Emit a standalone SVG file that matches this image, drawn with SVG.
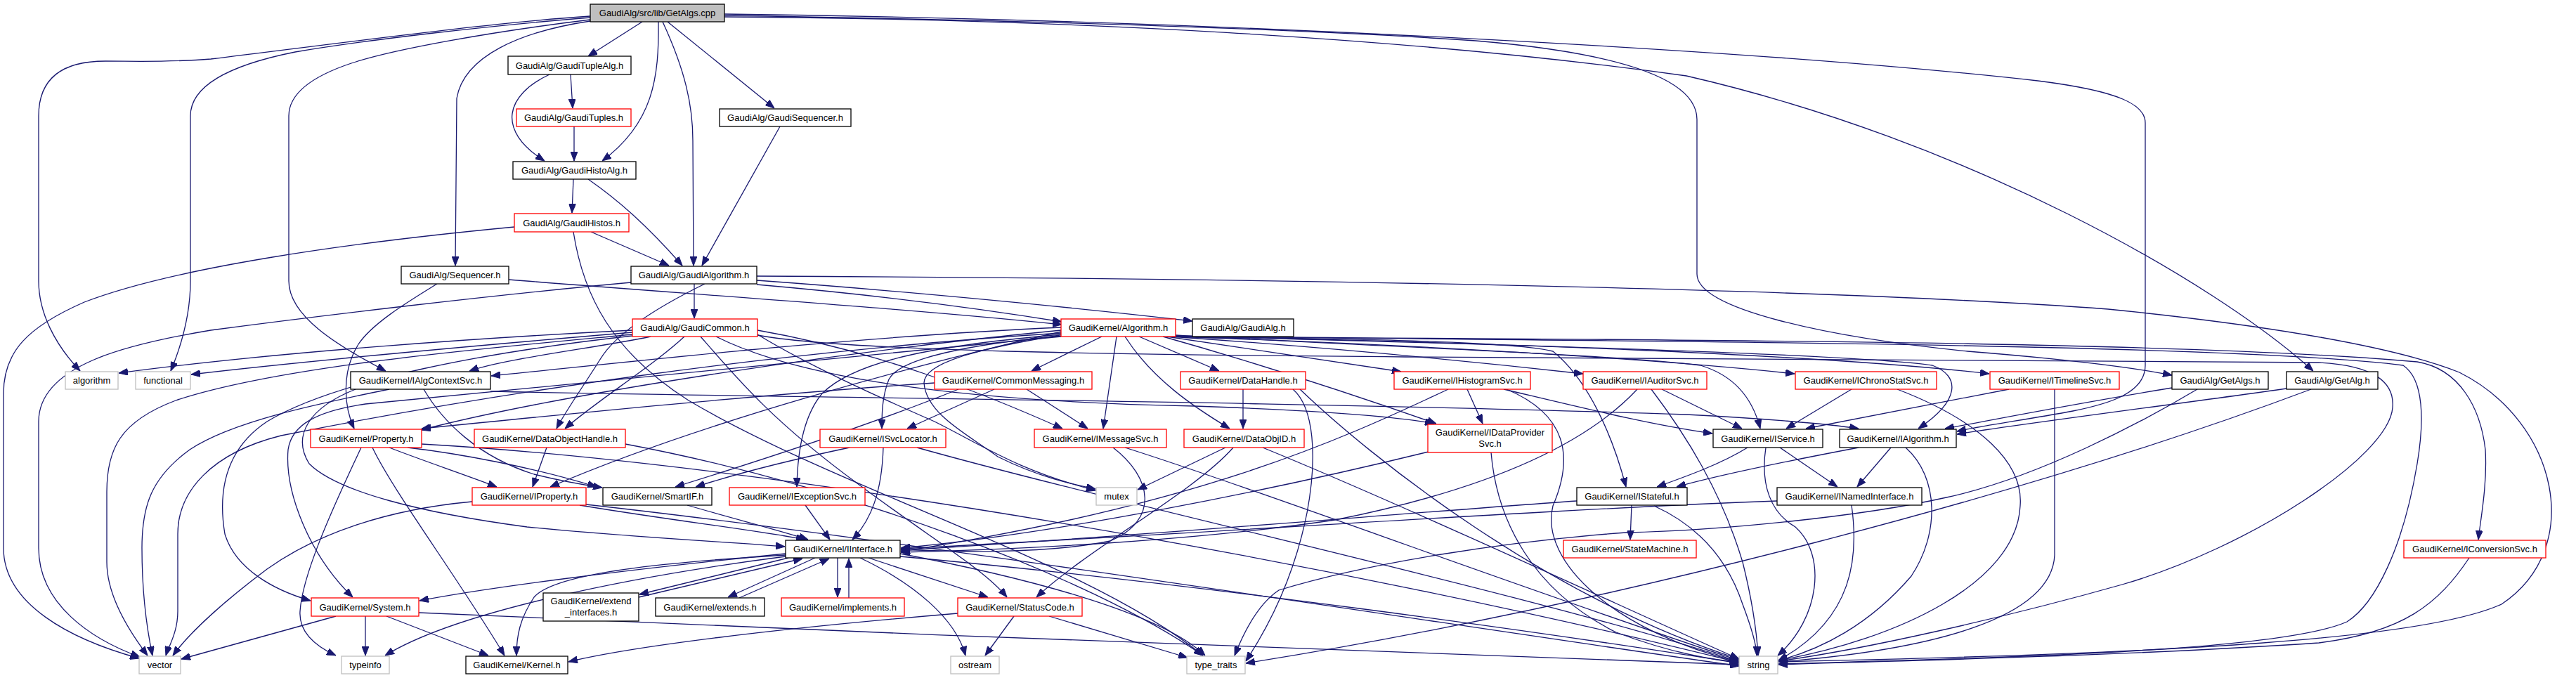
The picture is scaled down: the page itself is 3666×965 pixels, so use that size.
<svg xmlns="http://www.w3.org/2000/svg" width="3666" height="965" viewBox="0 0 3666 965">
<style>
.n rect{fill:#fff;stroke:#000;stroke-width:1.3}
.n.r rect{stroke:#ff0000}
.n.g rect{stroke:#bfbfbf}
.n.root rect{fill:#bfbfbf}
.n text{font-family:"Liberation Sans",Arial,sans-serif;font-size:13px;text-anchor:middle;fill:#000}
#edges path{fill:none;stroke:#191970;stroke-width:1.3;marker-end:url(#a)}
</style>
<defs>
<marker id="a" markerWidth="13" markerHeight="10" refX="13" refY="5" orient="auto" markerUnits="userSpaceOnUse"><path d="M0,0 L13,5 L0,10 z" fill="#191970" stroke="#191970" stroke-width="1"/></marker>
</defs>
<rect width="3666" height="965" fill="#fff"/>
<g id="edges">
<path d="M840,23 C700,32 480,62 300,84 C240,89 190,87 150,87 C90,87 55,110 55,165 L55,400 C55,445 78,490 114,528"/>
<path d="M840,25 C700,36 520,57 420,74 C330,92 271,120 271,165 L271,400 C271,450 258,492 243,528"/>
<path d="M840,28 C700,45 560,70 500,90 C440,110 411,135 411,165 L411,400 C411,450 480,492 549,528"/>
<path d="M840,30 C740,45 660,80 650,140 L648,378"/>
<path d="M914,31 L837,80"/>
<path d="M937,31 C938,110 930,175 857,229"/>
<path d="M943,31 C975,100 986,150 986,200 L987,378"/>
<path d="M950,31 L1102,154"/>
<path d="M1031,22 C1400,28 1800,38 2100,58 C2300,75 2415,110 2415,170 L2415,390 C2415,440 2600,480 2800,500 C2950,512 3030,522 3091,534"/>
<path d="M1031,24 C1500,27 2000,52 2400,108 C2800,200 3150,400 3292,528"/>
<path d="M1031,20 C1700,28 2500,70 2900,115 C3020,130 3053,150 3053,175 L3053,520 C3053,560 3000,575 2950,585 C2880,598 2820,606 2785,614"/>
<path d="M812,106 L815,154"/>
<path d="M782,106 C720,135 705,185 775,229"/>
<path d="M817,180 L817,229"/>
<path d="M1110,180 L999,378"/>
<path d="M816,255 L814,303"/>
<path d="M837,255 C880,285 920,320 971,378"/>
<path d="M841,330 L952,378"/>
<path d="M732,323 C500,345 250,380 120,430 C40,465 5,500 5,560 L5,780 C5,860 100,910 198,937"/>
<path d="M816,330 C830,420 870,500 980,570 C1200,700 1550,800 1712,933"/>
<path d="M988,404 L988,453"/>
<path d="M1077,405 C1250,420 1400,440 1511,458"/>
<path d="M1077,399 C1300,415 1550,440 1697,457"/>
<path d="M898,402 C700,420 450,450 300,470 C180,490 55,520 55,600 L55,780 C55,860 130,910 199,935"/>
<path d="M1077,393 C1800,396 2600,410 3000,440 C3200,460 3400,490 3500,530 C3640,600 3680,780 3560,860 C3450,910 3100,930 2531,942"/>
<path d="M1003,404 C950,430 880,470 855,510 C830,550 805,585 792,610"/>
<path d="M974,479 C930,520 850,570 804,610"/>
<path d="M926,479 C850,495 720,510 668,528"/>
<path d="M900,470 C700,480 400,500 169,531"/>
<path d="M900,473 C700,490 450,512 272,533"/>
<path d="M900,476 C700,495 400,520 250,570 C170,600 152,640 152,700 L152,800 C152,850 185,900 210,933"/>
<path d="M900,478 C700,500 480,540 380,600 C320,640 310,700 320,760 C335,810 390,840 442,855"/>
<path d="M997,479 C1050,540 1100,600 1220,688 C1330,770 1400,810 1433,850"/>
<path d="M1019,479 C1150,545 1400,572 1700,578 C1900,585 2000,595 2041,603"/>
<path d="M1078,470 C1250,500 1400,560 1512,610"/>
<path d="M1078,476 C1150,520 1250,565 1330,600 C1400,635 1450,670 1559,698"/>
<path d="M1078,477 C1200,500 1600,505 2000,508 C2600,512 3100,512 3300,516 C3380,520 3408,545 3405,580 C3400,650 3200,780 3020,832 C2850,880 2650,925 2531,941"/>
<path d="M724,398 C1000,420 1300,440 1511,462"/>
<path d="M622,404 C580,430 530,460 510,490 C485,530 490,580 504,610"/>
<path d="M554,554 C450,575 330,600 270,640 C215,680 202,720 202,780 C202,850 210,900 217,933"/>
<path d="M698,557 C1100,566 1800,570 2400,590 C2500,595 2600,603 2645,610"/>
<path d="M506,554 C440,580 415,620 440,660 C480,700 600,730 750,750 C900,765 1050,772 1117,778"/>
<path d="M603,554 C630,600 680,650 760,675 C800,685 830,690 857,694"/>
<path d="M554,637 C600,655 660,675 707,693"/>
<path d="M580,637 C650,645 760,665 849,693"/>
<path d="M530,637 C560,700 650,820 718,933"/>
<path d="M514,637 C470,730 430,820 427,870 C425,900 450,920 478,933"/>
<path d="M600,632 C1100,660 1900,800 2475,943"/>
<path d="M1568,479 L1468,528"/>
<path d="M1589,479 L1570,610"/>
<path d="M1601,479 C1640,540 1700,580 1750,610"/>
<path d="M1621,479 L1735,528"/>
<path d="M1660,479 C1800,500 1900,515 1994,529"/>
<path d="M1665,479 C1900,495 2100,515 2253,532"/>
<path d="M1668,479 C2000,490 2350,510 2554,532"/>
<path d="M1670,479 C2100,486 2600,505 2831,532"/>
<path d="M1672,479 C2400,484 3100,485 3440,515 C3500,525 3530,580 3537,640 C3540,690 3530,740 3527,768"/>
<path d="M1671,479 C2500,486 3200,492 3420,520 C3450,540 3450,600 3440,660 C3420,780 3380,860 3340,885 C3250,925 2900,935 2531,945"/>
<path d="M1655,479 C1800,520 1950,570 2044,603"/>
<path d="M1510,476 C1350,490 1220,510 1170,560 C1145,590 1135,640 1134,693"/>
<path d="M1510,478 C1380,490 1280,510 1265,540 C1255,565 1255,590 1255,610"/>
<path d="M1673,477 C2000,495 2300,505 2420,520 C2470,535 2495,570 2505,610"/>
<path d="M1673,478 C2200,492 2650,505 2750,520 C2790,535 2790,570 2730,610"/>
<path d="M1673,479 C1900,482 2150,485 2210,500 C2260,540 2295,620 2314,693"/>
<path d="M1510,466 C1200,480 900,515 699,535"/>
<path d="M1510,470 C1200,500 800,560 599,612"/>
<path d="M1510,472 C1300,520 1000,600 783,693"/>
<path d="M1510,479 C1100,520 700,560 520,575 C450,585 415,605 410,640 C405,700 440,790 502,850"/>
<path d="M1510,474 C1100,500 700,560 400,620 C300,645 253,700 253,760 L253,870 C253,900 240,920 236,933"/>
<path d="M1508,477 C1400,495 1315,515 1315,545 C1318,590 1380,620 1420,650 C1480,680 1530,690 1559,696"/>
<path d="M1461,554 L1548,610"/>
<path d="M1415,554 L1291,610"/>
<path d="M1364,554 C1250,600 1100,650 961,693"/>
<path d="M1330,545 C1100,560 800,590 600,610"/>
<path d="M1769,554 L1769,610"/>
<path d="M1840,554 C1870,580 1875,650 1860,730 C1840,830 1800,900 1773,941"/>
<path d="M1850,554 C1950,650 2200,850 2475,938"/>
<path d="M778,637 L758,693"/>
<path d="M890,632 C1200,690 1550,820 1712,933"/>
<path d="M672,714 C550,725 450,760 380,810 C320,855 270,900 246,933"/>
<path d="M825,719 C950,740 1080,755 1146,768"/>
<path d="M834,718 C1300,770 2000,880 2475,948"/>
<path d="M978,719 C1050,740 1110,755 1150,768"/>
<path d="M1146,719 L1181,768"/>
<path d="M1122,794 L910,846"/>
<path d="M909,850 L1142,795"/>
<path d="M1160,794 L1036,850"/>
<path d="M1052,851 L1180,795"/>
<path d="M1192,794 L1192,850"/>
<path d="M1208,851 L1208,795"/>
<path d="M1118,790 C950,800 790,815 760,850 C740,880 735,905 735,933"/>
<path d="M1118,788 C900,810 700,835 597,855"/>
<path d="M1118,792 C900,820 650,870 548,933"/>
<path d="M1236,794 L1406,850"/>
<path d="M1224,794 C1300,830 1360,880 1374,933"/>
<path d="M1281,788 C1450,820 1650,870 1715,933"/>
<path d="M1281,792 C1700,830 2200,900 2475,944"/>
<path d="M478,877 L258,938"/>
<path d="M520,877 L520,933"/>
<path d="M550,877 L695,933"/>
<path d="M596,872 C1200,900 2000,930 2475,946"/>
<path d="M1257,637 C1255,700 1240,740 1213,768"/>
<path d="M1209,637 C1100,660 1030,680 990,693"/>
<path d="M1305,637 C1600,720 2200,850 2475,942"/>
<path d="M1584,637 C1640,680 1650,740 1580,770 C1480,790 1350,785 1282,782"/>
<path d="M1601,637 C1800,700 2200,850 2475,940"/>
<path d="M1744,637 L1619,697"/>
<path d="M1755,637 C1700,700 1550,780 1475,850"/>
<path d="M1797,637 C2000,720 2300,860 2475,938"/>
<path d="M1443,877 L1402,933"/>
<path d="M1493,877 L1690,936"/>
<path d="M1363,873 C1100,895 900,920 809,942"/>
<path d="M2088,554 L2110,603"/>
<path d="M2061,554 C1900,630 1700,720 1282,785"/>
<path d="M2144,554 C2230,590 2240,650 2210,720 C2190,800 2300,900 2475,942"/>
<path d="M2140,554 C2250,580 2350,605 2437,617"/>
<path d="M2365,554 L2479,610"/>
<path d="M2330,554 C2250,640 2100,700 1900,740 C1700,770 1450,782 1282,786"/>
<path d="M2350,554 C2400,620 2450,700 2480,800 C2495,860 2500,900 2502,933"/>
<path d="M2635,554 L2542,610"/>
<path d="M2700,554 C2820,600 2880,660 2875,720 C2870,830 2700,910 2531,940"/>
<path d="M2859,554 L2570,610"/>
<path d="M2924,554 L2924,790 C2920,880 2750,925 2531,942"/>
<path d="M2033,643 C1800,700 1500,760 1282,780"/>
<path d="M2122,644 C2130,740 2180,840 2300,900 C2380,930 2440,940 2475,942"/>
<path d="M2322,719 L2320,768"/>
<path d="M2244,713 C2000,730 1600,765 1282,783"/>
<path d="M2354,720 C2420,750 2460,800 2480,860 C2495,900 2500,920 2500,933"/>
<path d="M2533,637 L2615,693"/>
<path d="M2487,637 C2450,660 2400,678 2358,693"/>
<path d="M2513,637 C2505,690 2520,730 2555,750 C2600,790 2590,880 2530,933"/>
<path d="M2691,637 L2643,693"/>
<path d="M2645,637 C2550,655 2450,675 2386,693"/>
<path d="M2712,637 C2760,680 2760,760 2720,820 C2660,890 2590,925 2531,940"/>
<path d="M2529,713 C2200,725 1700,760 1282,781"/>
<path d="M2635,719 C2645,790 2640,880 2531,940"/>
<path d="M3091,552 C2950,575 2850,595 2768,610"/>
<path d="M3127,554 C3050,600 2900,680 2770,708 C2650,735 2450,755 2314,758 C2150,770 1950,800 1820,840 C1790,860 1770,900 1757,933"/>
<path d="M3254,553 C3100,575 2900,600 2785,618"/>
<path d="M3289,554 C2900,700 2300,860 1773,944"/>
<path d="M3514,794 C3470,860 3420,900 3300,915 C3000,935 2700,940 2531,946"/>
</g>
<g id="n_root" class="n root"><rect x="840" y="6" width="191" height="25"/><text x="935.5" y="23">GaudiAlg/src/lib/GetAlgs.cpp</text></g>
<g id="n_tuplealg" class="n"><rect x="723" y="80" width="175" height="26"/><text x="810.5" y="98">GaudiAlg/GaudiTupleAlg.h</text></g>
<g id="n_tuples" class="n r"><rect x="735" y="155" width="163" height="25"/><text x="816.5" y="172">GaudiAlg/GaudiTuples.h</text></g>
<g id="n_gaudiseq" class="n"><rect x="1024" y="155" width="187" height="25"/><text x="1117.5" y="172">GaudiAlg/GaudiSequencer.h</text></g>
<g id="n_histoalg" class="n"><rect x="730" y="230" width="175" height="25"/><text x="817.5" y="247">GaudiAlg/GaudiHistoAlg.h</text></g>
<g id="n_histos" class="n r"><rect x="732" y="304" width="163" height="26"/><text x="813.5" y="322">GaudiAlg/GaudiHistos.h</text></g>
<g id="n_sequencer" class="n"><rect x="571" y="379" width="153" height="25"/><text x="647.5" y="396">GaudiAlg/Sequencer.h</text></g>
<g id="n_gaudialgorithm" class="n"><rect x="898" y="379" width="179" height="25"/><text x="987.5" y="396">GaudiAlg/GaudiAlgorithm.h</text></g>
<g id="n_gaudicommon" class="n r"><rect x="900" y="454" width="178" height="25"/><text x="989" y="471">GaudiAlg/GaudiCommon.h</text></g>
<g id="n_algorithm_h" class="n r"><rect x="1510" y="454" width="163" height="25"/><text x="1591.5" y="471">GaudiKernel/Algorithm.h</text></g>
<g id="n_gaudialg" class="n"><rect x="1697" y="454" width="144" height="25"/><text x="1769" y="471">GaudiAlg/GaudiAlg.h</text></g>
<g id="n_algorithm" class="n g"><rect x="93" y="529" width="75" height="25"/><text x="130.5" y="546">algorithm</text></g>
<g id="n_functional" class="n g"><rect x="193" y="529" width="78" height="25"/><text x="232" y="546">functional</text></g>
<g id="n_ialgcontextsvc" class="n"><rect x="499" y="529" width="199" height="25"/><text x="598.5" y="546">GaudiKernel/IAlgContextSvc.h</text></g>
<g id="n_property" class="n r"><rect x="442" y="611" width="158" height="26"/><text x="521" y="629">GaudiKernel/Property.h</text></g>
<g id="n_system" class="n r"><rect x="443" y="851" width="153" height="26"/><text x="519.5" y="869">GaudiKernel/System.h</text></g>
<g id="n_vector" class="n g"><rect x="198" y="934" width="59" height="25"/><text x="227.5" y="951">vector</text></g>
<g id="n_typeinfo" class="n g"><rect x="486" y="934" width="68" height="25"/><text x="520" y="951">typeinfo</text></g>
<g id="n_dataobjecthandle" class="n r"><rect x="675" y="611" width="215" height="26"/><text x="782.5" y="629">GaudiKernel/DataObjectHandle.h</text></g>
<g id="n_iproperty" class="n r"><rect x="672" y="694" width="162" height="25"/><text x="753" y="711">GaudiKernel/IProperty.h</text></g>
<g id="n_smartif" class="n"><rect x="858" y="694" width="155" height="25"/><text x="935.5" y="711">GaudiKernel/SmartIF.h</text></g>
<g id="n_iexceptionsvc" class="n r"><rect x="1038" y="694" width="193" height="25"/><text x="1134.5" y="711">GaudiKernel/IExceptionSvc.h</text></g>
<g id="n_iinterface" class="n"><rect x="1118" y="769" width="163" height="25"/><text x="1199.5" y="786">GaudiKernel/IInterface.h</text></g>
<g id="n_extend_interfaces" class="n"><rect x="773" y="844" width="136" height="40"/><text x="841" y="860">GaudiKernel/extend</text><text x="841" y="876">_interfaces.h</text></g>
<g id="n_extends" class="n"><rect x="933" y="851" width="155" height="26"/><text x="1010.5" y="869">GaudiKernel/extends.h</text></g>
<g id="n_implements" class="n r"><rect x="1112" y="851" width="175" height="26"/><text x="1199.5" y="869">GaudiKernel/implements.h</text></g>
<g id="n_kernel" class="n"><rect x="663" y="934" width="145" height="25"/><text x="735.5" y="951">GaudiKernel/Kernel.h</text></g>
<g id="n_isvclocator" class="n r"><rect x="1167" y="611" width="179" height="26"/><text x="1256.5" y="629">GaudiKernel/ISvcLocator.h</text></g>
<g id="n_commonmessaging" class="n r"><rect x="1330" y="529" width="224" height="25"/><text x="1442" y="546">GaudiKernel/CommonMessaging.h</text></g>
<g id="n_datahandle" class="n r"><rect x="1680" y="529" width="178" height="25"/><text x="1769" y="546">GaudiKernel/DataHandle.h</text></g>
<g id="n_imessagesvc" class="n r"><rect x="1472" y="611" width="188" height="26"/><text x="1566" y="629">GaudiKernel/IMessageSvc.h</text></g>
<g id="n_dataobjid" class="n r"><rect x="1685" y="611" width="171" height="26"/><text x="1770.5" y="629">GaudiKernel/DataObjID.h</text></g>
<g id="n_mutex" class="n g"><rect x="1560" y="694" width="58" height="25"/><text x="1589" y="711">mutex</text></g>
<g id="n_statuscode" class="n r"><rect x="1363" y="851" width="177" height="26"/><text x="1451.5" y="869">GaudiKernel/StatusCode.h</text></g>
<g id="n_ostream" class="n g"><rect x="1353" y="934" width="69" height="25"/><text x="1387.5" y="951">ostream</text></g>
<g id="n_type_traits" class="n g"><rect x="1689" y="934" width="83" height="25"/><text x="1730.5" y="951">type_traits</text></g>
<g id="n_ihistogramsvc" class="n r"><rect x="1984" y="529" width="194" height="25"/><text x="2081" y="546">GaudiKernel/IHistogramSvc.h</text></g>
<g id="n_iauditorsvc" class="n r"><rect x="2253" y="529" width="176" height="25"/><text x="2341" y="546">GaudiKernel/IAuditorSvc.h</text></g>
<g id="n_idataprovidersvc" class="n r"><rect x="2032" y="604" width="177" height="40"/><text x="2120.5" y="620">GaudiKernel/IDataProvider</text><text x="2120.5" y="636">Svc.h</text></g>
<g id="n_istateful" class="n"><rect x="2244" y="694" width="157" height="25"/><text x="2322.5" y="711">GaudiKernel/IStateful.h</text></g>
<g id="n_statemachine" class="n r"><rect x="2225" y="769" width="189" height="25"/><text x="2319.5" y="786">GaudiKernel/StateMachine.h</text></g>
<g id="n_ichronostatsvc" class="n r"><rect x="2555" y="529" width="201" height="25"/><text x="2655.5" y="546">GaudiKernel/IChronoStatSvc.h</text></g>
<g id="n_itimelinesvc" class="n r"><rect x="2832" y="529" width="184" height="25"/><text x="2924" y="546">GaudiKernel/ITimelineSvc.h</text></g>
<g id="n_iservice" class="n"><rect x="2438" y="611" width="156" height="26"/><text x="2516" y="629">GaudiKernel/IService.h</text></g>
<g id="n_ialgorithm" class="n"><rect x="2618" y="611" width="166" height="26"/><text x="2701" y="629">GaudiKernel/IAlgorithm.h</text></g>
<g id="n_inamedinterface" class="n"><rect x="2529" y="694" width="206" height="25"/><text x="2632" y="711">GaudiKernel/INamedInterface.h</text></g>
<g id="n_string" class="n g"><rect x="2475" y="934" width="55" height="25"/><text x="2502.5" y="951">string</text></g>
<g id="n_getalgs" class="n"><rect x="3091" y="529" width="137" height="25"/><text x="3159.5" y="546">GaudiAlg/GetAlgs.h</text></g>
<g id="n_getalg" class="n"><rect x="3254" y="529" width="130" height="25"/><text x="3319" y="546">GaudiAlg/GetAlg.h</text></g>
<g id="n_iconversionsvc" class="n r"><rect x="3421" y="769" width="202" height="25"/><text x="3522" y="786">GaudiKernel/IConversionSvc.h</text></g>
</svg>
